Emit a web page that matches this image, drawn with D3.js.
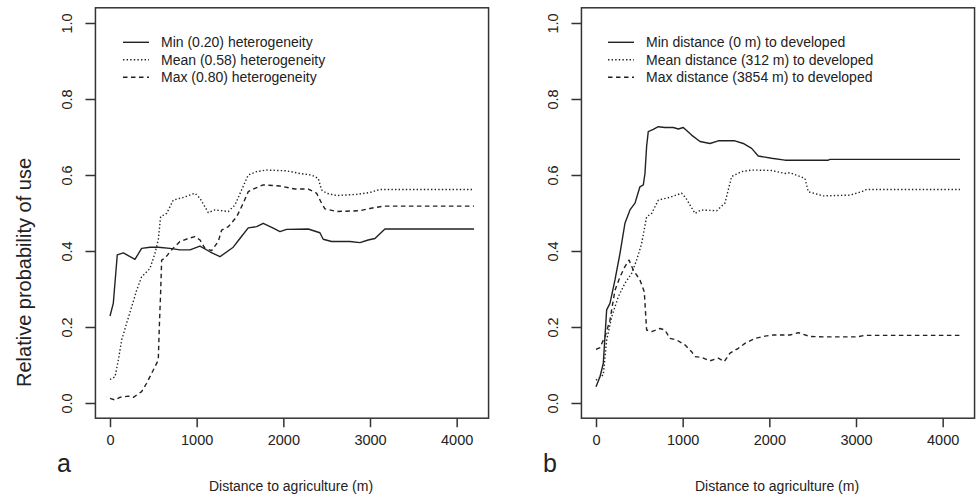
<html lang="en">
<head>
  <meta charset="UTF-8">
  <title>Relative probability of use vs distance to agriculture</title>
  <script src="https://d3js.org/d3.v7.min.js"></script>
  <style>
    body { margin: 0; background: #fff; }
    svg text { font-family: "Liberation Sans", Arial, sans-serif; fill: #222; }
    .box { fill: none; stroke: #333; stroke-width: 1.5px; }
    .tick line { stroke: #333; stroke-width: 1.5px; }
    .curve { fill: none; stroke: #222; stroke-width: 1.4px; stroke-linejoin: round; }
  </style>
</head>
<body>
<svg id="chart" width="977" height="494"></svg>
<script>
  // x tick values and y tick values
  const xTicks = [0, 1000, 2000, 3000, 4000];
  const yTicks = [0, 0.2, 0.4, 0.6, 0.8, 1.0];

  // panel a: heterogeneity
  const minHetX = [0, 38, 84, 154, 288, 365, 461, 557, 692, 807, 923, 1038, 1153, 1269, 1422, 1499, 1595, 1692, 1768, 1884, 1961, 2038, 2287, 2422, 2460, 2557, 2768, 2884, 2979, 3057, 3172, 4200];
  const minHetY = [0.229, 0.262, 0.39, 0.395, 0.378, 0.407, 0.41, 0.41, 0.407, 0.403, 0.403, 0.413, 0.398, 0.385, 0.41, 0.433, 0.461, 0.464, 0.473, 0.46, 0.451, 0.457, 0.458, 0.448, 0.431, 0.425, 0.425, 0.422, 0.429, 0.433, 0.458, 0.458];

  const meanHetX = [0, 58, 96, 135, 192, 250, 308, 365, 461, 519, 557, 584, 654, 730, 846, 980, 1038, 1134, 1211, 1365, 1442, 1519, 1595, 1692, 1807, 2038, 2191, 2326, 2403, 2441, 2499, 2614, 2845, 2999, 3114, 4200];
  const meanHetY = [0.062, 0.069, 0.113, 0.166, 0.21, 0.253, 0.297, 0.332, 0.354, 0.394, 0.429, 0.49, 0.499, 0.534, 0.541, 0.552, 0.539, 0.501, 0.508, 0.504, 0.521, 0.561, 0.6, 0.609, 0.613, 0.611, 0.604, 0.6, 0.591, 0.561, 0.552, 0.546, 0.549, 0.554, 0.562, 0.562];

  const maxHetX = [0, 58, 115, 211, 269, 365, 423, 500, 557, 569, 584, 596, 634, 711, 807, 903, 980, 1038, 1096, 1173, 1249, 1288, 1365, 1461, 1538, 1595, 1672, 1768, 1961, 2134, 2287, 2384, 2441, 2480, 2614, 2884, 2999, 3153, 4200];
  const maxHetY = [0.012, 0.008, 0.015, 0.018, 0.015, 0.03, 0.052, 0.087, 0.113, 0.2, 0.289, 0.376, 0.381, 0.403, 0.425, 0.433, 0.438, 0.429, 0.407, 0.401, 0.425, 0.455, 0.464, 0.49, 0.526, 0.556, 0.565, 0.574, 0.571, 0.563, 0.563, 0.552, 0.526, 0.511, 0.504, 0.506, 0.512, 0.518, 0.518];

  // panel b: distance to developed
  const minDevX = [0, 46, 84, 123, 161, 219, 277, 334, 392, 450, 507, 546, 565, 584, 603, 661, 719, 796, 892, 950, 1007, 1103, 1200, 1315, 1411, 1603, 1699, 1796, 1872, 2026, 2180, 2680, 2700, 4200];
  const minDevY = [0.043, 0.069, 0.104, 0.245, 0.262, 0.324, 0.394, 0.473, 0.508, 0.526, 0.569, 0.574, 0.604, 0.675, 0.714, 0.72, 0.727, 0.725, 0.725, 0.721, 0.725, 0.705, 0.688, 0.683, 0.69, 0.69, 0.683, 0.67, 0.65, 0.644, 0.639, 0.639, 0.641, 0.641];

  const meanDevX = [0, 27, 84, 123, 181, 258, 334, 411, 469, 527, 584, 642, 719, 846, 988, 1038, 1142, 1211, 1392, 1488, 1565, 1680, 1796, 2026, 2180, 2238, 2411, 2449, 2622, 2930, 3064, 3122, 4200];
  const meanDevY = [0.06, 0.065, 0.074, 0.166, 0.227, 0.28, 0.315, 0.341, 0.376, 0.42, 0.49, 0.499, 0.534, 0.541, 0.552, 0.539, 0.499, 0.508, 0.506, 0.526, 0.596, 0.609, 0.613, 0.612, 0.604, 0.606, 0.591, 0.556, 0.545, 0.547, 0.556, 0.562, 0.562];

  const maxDevX = [0, 46, 104, 161, 219, 277, 334, 381, 430, 507, 557, 584, 642, 738, 796, 853, 930, 1026, 1103, 1142, 1219, 1315, 1411, 1480, 1546, 1642, 1719, 1834, 1949, 2045, 2238, 2334, 2468, 2622, 3007, 3103, 4200];
  const maxDevY = [0.141, 0.146, 0.175, 0.218, 0.297, 0.332, 0.359, 0.376, 0.35, 0.324, 0.293, 0.192, 0.188, 0.196, 0.192, 0.17, 0.166, 0.153, 0.135, 0.122, 0.12, 0.111, 0.118, 0.109, 0.131, 0.144, 0.157, 0.17, 0.176, 0.179, 0.179, 0.185, 0.175, 0.174, 0.174, 0.178, 0.178];

  const legendA = ["Min (0.20) heterogeneity", "Mean (0.58) heterogeneity", "Max (0.80) heterogeneity"];
  const legendB = ["Min distance (0 m) to developed", "Mean distance (312 m) to developed", "Max distance (3854 m) to developed"];
  const dashes = [null, "1.4,2.2", "4.5,3.5"];

  const svg = d3.select("#chart");

  const zip = (xs, ys) => xs.map((x, i) => [x, ys[i]]);

  const panels = [
    { left: 110, tag: "a", legend: legendA, legX: 123,
      series: [zip(minHetX, minHetY), zip(meanHetX, meanHetY), zip(maxHetX, maxHetY)] },
    { left: 596, tag: "b", legend: legendB, legX: 608,
      series: [zip(minDevX, minDevY), zip(meanDevX, meanDevY), zip(maxDevX, maxDevY)] }
  ];

  panels.forEach(p => {
    // R style: 4% padding around the data range
    const x = d3.scaleLinear().domain([0, 4200]).range([p.left, p.left + 364]);
    const y = d3.scaleLinear().domain([0, 1]).range([403, 23]);
    const x0 = x.invert(x(0) - 0.04 * (x(4200) - x(0)));
    const x1 = x.invert(x(4200) + 0.04 * (x(4200) - x(0)));

    const g = svg.append("g");

    g.append("rect")
      .attr("class", "box")
      .attr("x", x(x0))
      .attr("y", y(1.04))
      .attr("width", x(x1) - x(x0))
      .attr("height", y(-0.04) - y(1.04));

    // x axis
    const xAxis = g.append("g")
      .attr("transform", `translate(0, ${y(-0.04)})`)
      .call(d3.axisBottom(x).tickValues(xTicks).tickSize(9).tickSizeOuter(0).tickPadding(8).tickFormat(d3.format("d")));
    xAxis.select(".domain").remove();
    xAxis.selectAll("text").attr("font-size", 14.5).style("fill", "#222");

    // y axis, labels rotated like R
    const yAxis = g.append("g")
      .attr("transform", `translate(${x(x0)}, 0)`)
      .call(d3.axisLeft(y).tickValues(yTicks).tickSize(10).tickFormat(d3.format(".1f")));
    yAxis.select(".domain").remove();
    yAxis.selectAll("text")
      .attr("font-size", 14.5)
      .attr("x", null).attr("dy", null)
      .attr("text-anchor", "middle")
      .attr("transform", "translate(-23, 0) rotate(-90)")
      .style("fill", "#222");

    const line = d3.line().x(d => x(d[0])).y(d => y(d[1]));

    p.series.forEach((s, i) => {
      g.append("path")
        .datum(s)
        .attr("class", "curve")
        .attr("d", line)
        .attr("stroke-dasharray", dashes[i]);
    });

    // legend
    p.legend.forEach((label, i) => {
      const ly = 42.3 + i * 17.5;
      g.append("line")
        .attr("x1", p.legX).attr("x2", p.legX + 26)
        .attr("y1", ly).attr("y2", ly)
        .attr("stroke", "#222").attr("stroke-width", 1.4)
        .attr("stroke-dasharray", dashes[i]);
      g.append("text")
        .attr("x", p.legX + 38)
        .attr("y", ly + 5)
        .attr("font-size", 14)
        .text(label);
    });

    // panel letter
    g.append("text")
      .attr("x", x(0) - 53)
      .attr("y", 472)
      .attr("font-size", 25)
      .text(p.tag);

    // x title
    g.append("text")
      .attr("x", (x(x0) + x(x1)) / 2 - 1)
      .attr("y", 491)
      .attr("text-anchor", "middle")
      .attr("font-size", 14)
      .text("Distance to agriculture (m)");
  });

  svg.append("text")
    .attr("transform", "translate(31, 387) rotate(-90)")
    .attr("font-size", 20)
    .text("Relative probability of use");
</script>
</body>
</html>
